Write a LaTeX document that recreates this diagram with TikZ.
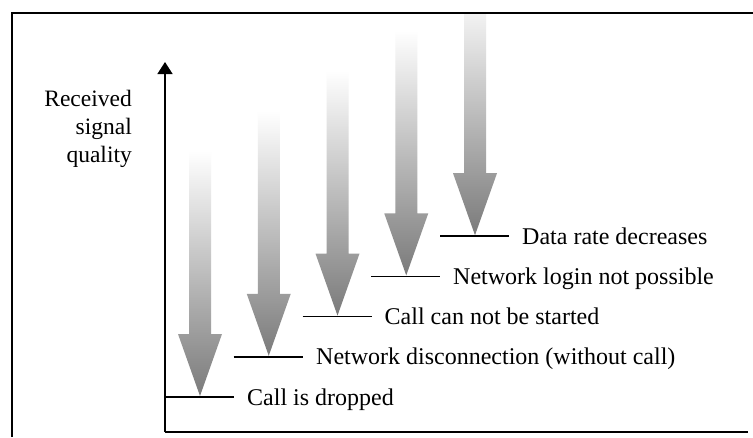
\documentclass[tikz,border=0pt]{standalone}
\usepackage{fontspec}
\setmainfont{Liberation Serif}
\usetikzlibrary{arrows.meta}
\begin{document}
\begin{tikzpicture}[x=1pt,y=-1pt,
  frameline/.style={line width=2.4pt,line join=miter},
  axisline/.style={line width=1.5pt},
  levelline/.style={line width=1.5pt},
  lbl/.style={anchor=base west,inner sep=0pt,font=\fontsize{24}{28}\selectfont},
  ylbl/.style={anchor=base east,inner sep=0pt,font=\fontsize{23.5}{28}\selectfont},
  bigarrow/.style={top color=white,bottom color=black!52,draw=none}]
\useasboundingbox (0,0) rectangle (753,437);
\fill[white] (0,0) rectangle (753,437);
% gradient arrows
\begin{scope}
\clip (13,14.5) rectangle (753,437);
\foreach \i in {0,...,4}{
  \pgfmathsetmacro\c{200+68.75*\i}
  \pgfmathsetmacro\t{396-40.2*\i}
  \shade[bigarrow] (\c-11,\t-245) -- (\c+11,\t-245) -- (\c+11,\t-62) -- (\c+22,\t-62)
     -- (\c,\t) -- (\c-22,\t-62) -- (\c-11,\t-62) -- cycle;
}
\end{scope}
% frame
\draw[frameline] (12,437) -- (12,13) -- (753,13);
% axes
\coordinate (origin) at (165,432);
\coordinate (ytip) at (165,62);
\coordinate (xend) at (748,432);
\draw[axisline,-{Triangle[length=12pt,width=15pt]}] (origin) -- (ytip);
\draw[axisline] (origin) -- (xend);
% axis label
\node[ylbl] (ylab1) at (132,106) {Received};
\node[ylbl] (ylab2) at (132,134) {signal};
\node[ylbl] (ylab3) at (132,162) {quality};
% levels
\coordinate (a1) at (165,397);    \coordinate (b1) at (234,397);
\coordinate (a2) at (233.5,356.8); \coordinate (b2) at (302.8,356.8);
\coordinate (a3) at (302.5,316.6); \coordinate (b3) at (371.5,316.6);
\coordinate (a4) at (371.2,276.4); \coordinate (b4) at (440.2,276.4);
\coordinate (a5) at (440,236.2);   \coordinate (b5) at (509,236.2);
\foreach \k in {1,...,5}{\draw[levelline] (a\k) -- (b\k);}
\node[lbl] (t1) at (247,405) {Call is dropped};
\node[lbl] (t2) at (316,364.8) {Network disconnection (without call)};
\node[lbl] (t3) at (384.5,324.6) {Call can not be started};
\node[lbl] (t4) at (453,284.4) {Network login not possible};
\node[lbl] (t5) at (522,244.2) {Data rate decreases};
\end{tikzpicture}
\end{document}
